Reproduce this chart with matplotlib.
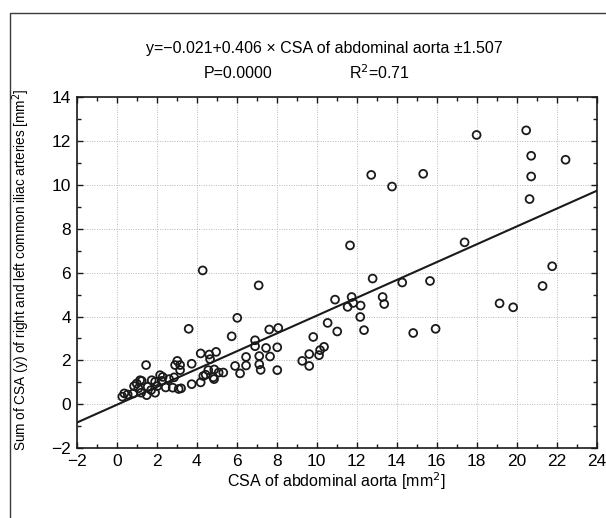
import matplotlib
matplotlib.use("Agg")
import matplotlib.pyplot as plt
from matplotlib.patches import Rectangle
from matplotlib.ticker import MultipleLocator
import numpy as np

# --------------------------------------------------------------------- #
# Data
# --------------------------------------------------------------------- #
aorta_csa = [
    18.0, 20.48, 20.73, 22.45, 20.73, 20.65, 12.73, 13.77, 15.33, 17.4,
    11.67, 4.3, 7.1, 21.78, 21.3, 19.15, 19.83, 12.8, 14.28, 15.67,
    11.75, 11.83, 12.2, 11.55, 13.3, 13.38, 12.18, 12.37, 14.83, 15.95,
    10.92, 10.55, 11.03, 9.83, 10.37, 10.17, 10.12, 9.63, 9.28, 9.63,
    7.63, 8.08, 6.92, 6.92, 7.47, 8.03, 6.47, 7.13, 7.67, 6.47,
    7.13, 7.2, 8.03, 5.92, 6.17, 6.03, 3.6, 5.75, 4.2, 4.63,
    4.97, 4.67, 3.75, 3.03, 3.17, 2.92, 3.17, 4.58, 4.88, 5.33,
    4.33, 4.83, 2.17, 2.87, 1.47, 4.87, 3.75, 4.2, 3.22, 2.8,
    2.45, 2.62, 2.25, 1.92, 1.75, 2.03, 1.72, 1.92, 1.55, 1.5,
    1.17, 1.25, 1.08, 1.22, 0.87, 0.83, 0.38, 0.28, 0.55, 1.0,
    2.3, 3.1, 5.1, 4.45,
]
iliac_csa_sum = [
    12.27, 12.48, 11.32, 11.14, 10.38, 9.35, 10.45, 9.92, 10.5, 7.38,
    7.24, 6.1, 5.42, 6.29, 5.39, 4.6, 4.42, 5.73, 5.55, 5.62,
    4.89, 4.62, 4.5, 4.44, 4.89, 4.57, 3.98, 3.38, 3.25, 3.44,
    4.77, 3.71, 3.32, 3.07, 2.62, 2.47, 2.24, 2.29, 1.98, 1.75,
    3.41, 3.48, 2.92, 2.65, 2.57, 2.6, 2.16, 2.2, 2.18, 1.77,
    1.82, 1.57, 1.56, 1.75, 1.41, 3.94, 3.44, 3.1, 2.32, 2.27,
    2.39, 2.06, 1.85, 1.98, 1.79, 1.79, 1.56, 1.56, 1.59, 1.45,
    1.29, 1.23, 1.33, 1.23, 1.79, 1.15, 0.92, 1.0, 0.73, 0.76,
    0.77, 1.15, 1.07, 1.03, 1.1, 0.83, 0.65, 0.53, 0.8, 0.42,
    1.1, 1.07, 0.73, 0.53, 0.83, 0.5, 0.5, 0.35, 0.45, 0.95,
    1.25, 0.7, 1.45, 1.35,
]

# regression reported in the figure
intercept = -0.021
slope = 0.406
x_lim = (-2, 24)
y_lim = (-2, 14)

# no condensed face installed -> Arial-metric Liberation Sans
plt.rcParams["font.family"] = ["Liberation Sans", "DejaVu Sans"]
fs = 11.5
plt.rcParams["font.size"] = fs

fig = plt.figure(figsize=(6.06, 5.18), dpi=100)
ax = fig.add_axes([0.1266, 0.1346, 0.8578, 0.6782])

# outer frame of the figure panel (right/bottom edges cut off)
fig.patches.append(Rectangle((10 / 606, -0.1), 1.2, 1 - 13 / 518 + 0.1,
                             transform=fig.transFigure, fill=False,
                             edgecolor="#3a3a3a", lw=1.0))

fit_x = np.array(x_lim, dtype=float)
ax.plot(fit_x, intercept + slope * fit_x, color="#1a1a1a", lw=1.5, zorder=2)
ax.scatter(aorta_csa, iliac_csa_sum, s=32, facecolors="none",
           edgecolors="#1a1a1a", linewidths=1.3, zorder=3)

ax.set_xlim(*x_lim)
ax.set_ylim(*y_lim)
ax.xaxis.set_major_locator(MultipleLocator(2))
ax.yaxis.set_major_locator(MultipleLocator(2))
ax.xaxis.set_minor_locator(MultipleLocator(1))
ax.yaxis.set_minor_locator(MultipleLocator(1))
ax.tick_params(which="both", direction="in", top=True, right=True,
               color="#1a1a1a", labelsize=12.5)
ax.tick_params(which="major", length=4, width=1, pad=4)
ax.tick_params(which="minor", length=3, width=1)
ax.grid(True, which="major", ls=(0, (1, 1.5)), color="#b8b8b8", lw=0.7)
for sp in ax.spines.values():
    sp.set_linewidth(1.2)
    sp.set_color("#1a1a1a")
ax.set_xticklabels([f"{int(v)}".replace("-", "\u2212") for v in ax.get_xticks()])
ax.set_yticklabels([f"{int(v)}".replace("-", "\u2212") for v in ax.get_yticks()])

ax.set_xlabel("CSA of abdominal aorta [mm$^2$]", labelpad=1, fontsize=fs)
fig.text(21 / 606, 0.5 - 0.02,
         "Sum of CSA (y) of right and left common iliac arteries [mm$^2$]",
         rotation=90, ha="center", va="center", fontsize=9.8)

fig.text(0.535, 1 - 49 / 518,
         "y=\u22120.021+0.406 \u00d7 CSA of abdominal aorta \u00b11.507",
         ha="center", va="center", fontsize=fs)
fig.text(0.393, 1 - 73 / 518, "P=0.0000", ha="center", va="center",
         fontsize=fs)
fig.text(0.627, 1 - 73 / 518, "R$^2$=0.71", ha="center", va="center",
         fontsize=fs)

fig.savefig("out.png", dpi=100)
